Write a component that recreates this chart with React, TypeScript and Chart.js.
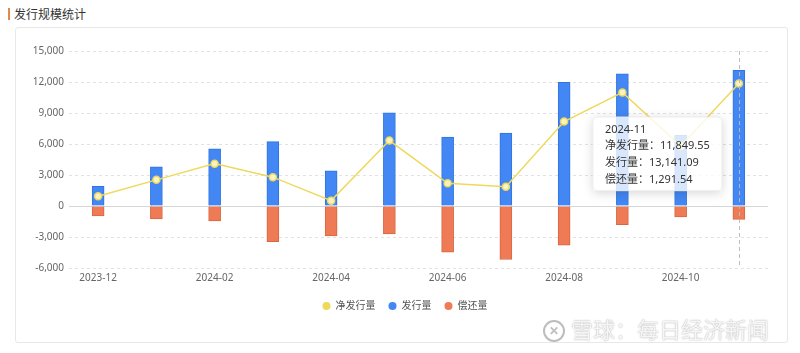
import React, { useEffect, useRef } from 'react';
import { Chart, registerables, Tooltip } from 'chart.js';

Chart.register(...registerables);

const months = ['2023-12', '2024-01', '2024-02', '2024-03', '2024-04', '2024-05', '2024-06', '2024-07', '2024-08', '2024-09', '2024-10', '2024-11'];
const issuance = [1900, 3780, 5540, 6230, 3410, 9020, 6660, 7050, 11970, 12790, 6850, 13141.09];
const repayment = [950, 1250, 1440, 3440, 2890, 2690, 4460, 5180, 3800, 1800, 1050, 1291.54];
const netIssuance = [950, 2530, 4100, 2790, 520, 6330, 2200, 1870, 8170, 10990, 5800, 11849.55];

const seriesNames = ['净发行量', '发行量', '偿还量'];
const seriesColors = ['#EFD95B', '#4287F3', '#EE7B55'];
const yMin = -6000;
const yMax = 15000;
const yStep = 3000;
const activeIndex = 11;

const FONT = '"Noto Sans", "Noto Sans CJK SC", sans-serif';

(Tooltip.positioners as any).fixedLeft = function (elements: any[]) {
  if (!elements.length) return false;
  const chart = this.chart;
  const el = elements[0].element;
  return { x: el.x - 21, y: chart.chartArea.top + 66, xAlign: 'right', yAlign: 'top' };
};

const fmt = (v: number) =>
  Math.abs(v).toLocaleString('en-US', { minimumFractionDigits: 2, maximumFractionDigits: 2 });

const crosshairPlugin = {
  id: 'crosshair',
  afterDatasetsDraw(chart: any) {
    const act = chart.getActiveElements();
    if (!act.length) return;
    const x = act[0].element.x;
    const { top, bottom } = chart.chartArea;
    const ctx = chart.ctx;
    ctx.save();
    ctx.strokeStyle = 'rgba(185,185,185,0.95)';
    ctx.lineWidth = 1;
    ctx.setLineDash([4, 3]);
    ctx.beginPath();
    ctx.moveTo(Math.round(x) + 0.5, top);
    ctx.lineTo(Math.round(x) + 0.5, bottom);
    ctx.stroke();
    ctx.restore();
  },
};

const legendShiftPlugin = {
  id: 'legendShift',
  afterLayout(chart: any) {
    if (chart.legend) {
      chart.legend.left += 27;
    }
  },
};

const tooltipShadowPlugin = {
  id: 'tooltipShadow',
  beforeTooltipDraw(chart: any, args: any) {
    const t = args.tooltip;
    if (!t || !t.opacity) return;
    const ctx = chart.ctx;
    ctx.save();
    ctx.beginPath();
    ctx.rect(0, 0, chart.width, chart.height);
    ctx.rect(t.x, t.y, t.width, t.height);
    ctx.clip('evenodd');
    ctx.shadowColor = 'rgba(0,0,0,0.16)';
    ctx.shadowBlur = 10;
    ctx.shadowOffsetY = 2;
    ctx.fillStyle = '#fff';
    ctx.fillRect(t.x, t.y, t.width, t.height);
    ctx.restore();
  },
};

function IssuanceChart() {
  const ref = useRef<HTMLCanvasElement | null>(null);
  useEffect(() => {
    if (!ref.current) return;
    Chart.defaults.font.family = FONT;
    const [yellow, blue, orange] = seriesColors;
    const chart = new Chart(ref.current, {
      type: 'bar',
      data: {
        labels: months,
        datasets: [
          {
            type: 'line',
            label: seriesNames[0],
            data: netIssuance,
            stack: 'net',
            order: 0,
            borderColor: yellow,
            backgroundColor: yellow,
            borderWidth: 1.5,
            tension: 0,
            pointRadius: 3.5,
            pointHoverRadius: 3.5,
            pointBackgroundColor: '#FBF3C4',
            pointBorderColor: yellow,
            pointBorderWidth: 1.5,
            pointHoverBackgroundColor: '#FBF3C4',
            pointHoverBorderColor: yellow,
            pointHoverBorderWidth: 1.5,
          } as any,
          {
            type: 'bar',
            label: seriesNames[1],
            data: issuance,
            stack: 'bars',
            order: 1,
            backgroundColor: blue,
            hoverBackgroundColor: blue,
            borderColor: '#2F74E0',
            hoverBorderColor: '#2F74E0',
            borderWidth: { top: 1, left: 1, right: 1, bottom: 0 },
            barThickness: 12,
          } as any,
          {
            type: 'bar',
            label: seriesNames[2],
            data: repayment.map((v) => -v),
            stack: 'bars',
            order: 1,
            backgroundColor: orange,
            hoverBackgroundColor: orange,
            borderColor: '#D9663F',
            hoverBorderColor: '#D9663F',
            borderWidth: { top: 0, left: 1, right: 1, bottom: 1 },
            barThickness: 12,
          } as any,
        ],
      },
      options: {
        animation: false,
        responsive: false,
        maintainAspectRatio: false,
        events: [],
        layout: { padding: { top: 24, right: 20, left: 0, bottom: 22 } },
        scales: {
          x: {
            stacked: true,
            grid: { display: false, drawTicks: false },
            border: { display: false },
            ticks: {
              autoSkip: false,
              maxRotation: 0,
              padding: 4,
              color: '#666',
              font: { size: 10, family: FONT },
              callback: (_v: any, i: number) => (i % 2 === 0 ? months[i] : ''),
            },
            afterFit: (s: any) => {
              s.height = 20;
            },
          },
          y: {
            stacked: true,
            min: yMin,
            max: yMax,
            ticks: {
              stepSize: yStep,
              padding: 5,
              color: '#666',
              font: { size: 10, family: FONT },
              callback: (v: any) => Number(v).toLocaleString('en-US'),
            },
            grid: {
              drawTicks: false,
              color: (c: any) => (c.tick && c.tick.value === 0 ? '#d6d6d6' : '#e2e2e2'),
              lineWidth: 1,
            },
            border: {
              display: false,
              dash: (c: any) => (c.tick && c.tick.value === 0 ? [] : [3, 3]),
            } as any,
            afterFit: (s: any) => {
              s.width = 54;
            },
          },
        },
        plugins: {
          legend: {
            position: 'bottom',
            labels: {
              usePointStyle: true,
              pointStyle: 'circle',
              boxWidth: 8,
              boxHeight: 5.7,
              padding: 13,
              color: '#555',
              font: { size: 10, family: FONT },
              generateLabels: (ch: any) =>
                (Chart.defaults.plugins.legend.labels.generateLabels as any)(ch).map((it: any, i: number) => ({
                  ...it,
                  fillStyle: seriesColors[i],
                  strokeStyle: seriesColors[i],
                  lineWidth: 0,
                })),
            },
          },
          tooltip: {
            enabled: true,
            mode: 'index',
            intersect: false,
            position: 'fixedLeft' as any,
            xAlign: 'right',
            yAlign: 'top',
            caretSize: 0,
            caretPadding: 0,
            cornerRadius: 4,
            backgroundColor: 'rgba(255,255,255,0.8)',
            borderColor: 'rgba(235,235,235,0.9)',
            borderWidth: 1,
            titleColor: '#333',
            bodyColor: '#333',
            titleFont: { size: 11, weight: 'normal', family: FONT, lineHeight: 1.3 },
            bodyFont: { size: 11, family: FONT, lineHeight: 1.3 },
            titleMarginBottom: 1.7,
            bodySpacing: 2.4,
            padding: { top: 6, bottom: 4, left: 12, right: 12 },
            displayColors: false,
            callbacks: {
              title: (items: any[]) => (items.length ? months[items[0].dataIndex] : ''),
              label: (item: any) => `${item.dataset.label}：${fmt(item.raw)}`,
            },
          },
        },
      },
      plugins: [crosshairPlugin, tooltipShadowPlugin, legendShiftPlugin],
    } as any);

    const active = [0, 1, 2].map((d) => ({ datasetIndex: d, index: activeIndex }));
    chart.setActiveElements(active);
    chart.tooltip?.setActiveElements(active, { x: 0, y: 0 });
    chart.update();

    return () => chart.destroy();
  }, []);

  return (
    <canvas
      ref={ref}
      width={773}
      height={316}
      style={{ position: 'absolute', left: 15, top: 27, width: 773, height: 316 }}
    />
  );
}

export default function App() {
  return (
    <div
      style={{
        position: 'absolute',
        left: 0,
        top: 0,
        width: 800,
        height: 353,
        background: '#fff',
        overflow: 'hidden',
        fontFamily: FONT,
      }}
    >
      <div style={{ position: 'absolute', left: 8, top: 8, width: 2, height: 12, background: '#E0894F' }} />
      <div
        style={{
          position: 'absolute',
          left: 14,
          top: 5,
          fontSize: 12,
          lineHeight: '18px',
          color: '#333',
          fontFamily: '"Noto Sans CJK SC", sans-serif',
        }}
      >
        发行规模统计
      </div>
      <div
        style={{
          position: 'absolute',
          left: 15,
          top: 27,
          width: 771,
          height: 314,
          border: '1px solid #e8e8e8',
          borderRadius: 3,
        }}
      />
      <IssuanceChart />
      <div
        style={{
          position: 'absolute',
          left: 543,
          top: 320,
          width: 18,
          height: 18,
          borderRadius: '50%',
          border: '2px solid #bdbdbd',
          color: '#bdbdbd',
          fontSize: 12,
          lineHeight: '18px',
          textAlign: 'center',
          fontWeight: 'bold',
        }}
      >
        ✕
      </div>
      <div
        style={{
          position: 'absolute',
          left: 571,
          top: 313,
          fontSize: 22,
          lineHeight: '30px',
          whiteSpace: 'nowrap',
          color: '#f6f6f6',
          textShadow: '0 0 1.5px #9a9a9a',
          fontFamily: '"Noto Sans CJK SC", sans-serif',
        }}
      >
        雪球：每日经济新闻
      </div>
    </div>
  );
}
